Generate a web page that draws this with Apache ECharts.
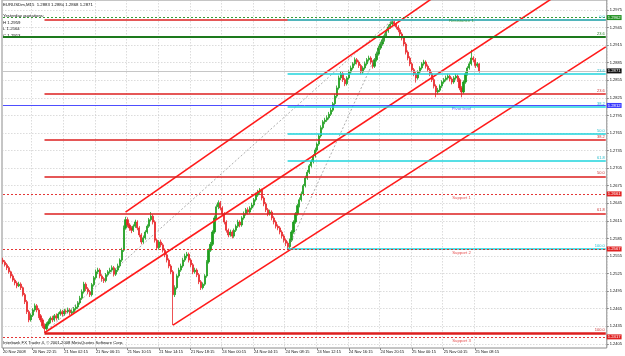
<!DOCTYPE html>
<html>
<head>
<meta charset="utf-8">
<script src="https://cdn.jsdelivr.net/npm/echarts@6/dist/echarts.min.js"></script>
<style>
html, body { margin: 0; padding: 0; background: #fff; }
#main { width: 625px; height: 356px; }
</style>
</head>
<body>
<div id="main"></div>
<script>
// EURUSDm M15 bars: [open, close, low, high]
var bars = [
[1.2548,1.2545,1.2541,1.2552],[1.2545,1.2540,1.2537,1.2548],[1.2540,1.2535,1.2531,1.2543],[1.2535,1.2528,1.2525,1.2538],
[1.2528,1.2521,1.2517,1.2530],[1.2521,1.2514,1.2511,1.2524],[1.2514,1.2509,1.2505,1.2517],[1.2509,1.2504,1.2500,1.2512],
[1.2504,1.2507,1.2502,1.2511],[1.2507,1.2501,1.2497,1.2510],[1.2501,1.2489,1.2486,1.2503],[1.2489,1.2477,1.2473,1.2492],
[1.2477,1.2460,1.2456,1.2480],[1.2460,1.2446,1.2442,1.2463],[1.2446,1.2454,1.2443,1.2457],[1.2454,1.2463,1.2451,1.2466],
[1.2463,1.2470,1.2460,1.2474],[1.2470,1.2463,1.2459,1.2473],[1.2463,1.2453,1.2449,1.2466],[1.2453,1.2446,1.2442,1.2456],
[1.2446,1.2436,1.2432,1.2449],[1.2436,1.2431,1.2424,1.2440],[1.2431,1.2439,1.2428,1.2442],[1.2439,1.2443,1.2436,1.2447],
[1.2443,1.2449,1.2440,1.2452],[1.2449,1.2446,1.2442,1.2453],[1.2446,1.2453,1.2443,1.2456],[1.2453,1.2449,1.2445,1.2457],
[1.2449,1.2456,1.2446,1.2459],[1.2456,1.2460,1.2453,1.2464],[1.2460,1.2456,1.2452,1.2463],[1.2456,1.2461,1.2453,1.2465],
[1.2461,1.2460,1.2456,1.2464],[1.2460,1.2463,1.2457,1.2467],[1.2463,1.2458,1.2454,1.2466],[1.2458,1.2460,1.2455,1.2464],
[1.2460,1.2465,1.2457,1.2468],[1.2465,1.2468,1.2462,1.2472],[1.2468,1.2475,1.2465,1.2478],[1.2475,1.2483,1.2472,1.2487],
[1.2483,1.2494,1.2480,1.2498],[1.2494,1.2507,1.2491,1.2511],[1.2507,1.2499,1.2495,1.2510],[1.2499,1.2494,1.2490,1.2502],
[1.2494,1.2489,1.2485,1.2497],[1.2489,1.2506,1.2486,1.2509],[1.2506,1.2518,1.2503,1.2521],[1.2518,1.2528,1.2515,1.2532],
[1.2528,1.2531,1.2524,1.2535],[1.2531,1.2521,1.2517,1.2534],[1.2521,1.2516,1.2512,1.2524],[1.2516,1.2513,1.2509,1.2519],
[1.2513,1.2523,1.2510,1.2526],[1.2523,1.2528,1.2520,1.2531],[1.2528,1.2531,1.2525,1.2535],[1.2531,1.2535,1.2528,1.2539],
[1.2535,1.2524,1.2520,1.2538],[1.2524,1.2531,1.2521,1.2534],[1.2531,1.2538,1.2528,1.2542],[1.2538,1.2548,1.2535,1.2551],
[1.2548,1.2565,1.2545,1.2569],[1.2565,1.2603,1.2562,1.2607],[1.2603,1.2617,1.2600,1.2622],[1.2617,1.2608,1.2604,1.2621],
[1.2608,1.2603,1.2598,1.2611],[1.2603,1.2599,1.2594,1.2606],[1.2599,1.2606,1.2596,1.2609],[1.2606,1.2613,1.2603,1.2617],
[1.2613,1.2603,1.2599,1.2616],[1.2603,1.2591,1.2587,1.2606],[1.2591,1.2579,1.2575,1.2594],[1.2579,1.2586,1.2576,1.2590],
[1.2586,1.2596,1.2583,1.2599],[1.2596,1.2606,1.2593,1.2609],[1.2606,1.2617,1.2603,1.2620],[1.2617,1.2623,1.2614,1.2630],
[1.2623,1.2613,1.2609,1.2626],[1.2613,1.2582,1.2578,1.2616],[1.2582,1.2569,1.2565,1.2585],[1.2569,1.2579,1.2566,1.2582],
[1.2579,1.2574,1.2570,1.2583],[1.2574,1.2565,1.2561,1.2577],[1.2565,1.2557,1.2553,1.2568],[1.2557,1.2548,1.2544,1.2560],
[1.2548,1.2538,1.2534,1.2551],[1.2538,1.2528,1.2524,1.2541],[1.2528,1.2489,1.2437,1.2531],[1.2489,1.2501,1.2485,1.2505],
[1.2501,1.2521,1.2498,1.2524],[1.2521,1.2531,1.2518,1.2535],[1.2531,1.2538,1.2528,1.2542],[1.2538,1.2548,1.2535,1.2552],
[1.2548,1.2555,1.2545,1.2559],[1.2555,1.2558,1.2551,1.2562],[1.2558,1.2548,1.2544,1.2561],[1.2548,1.2540,1.2536,1.2551],
[1.2540,1.2528,1.2524,1.2543],[1.2528,1.2531,1.2525,1.2535],[1.2531,1.2523,1.2519,1.2534],[1.2523,1.2511,1.2507,1.2526],
[1.2511,1.2501,1.2497,1.2514],[1.2501,1.2507,1.2498,1.2510],[1.2507,1.2521,1.2504,1.2524],[1.2521,1.2545,1.2518,1.2548],
[1.2545,1.2565,1.2542,1.2568],[1.2565,1.2575,1.2562,1.2579],[1.2575,1.2596,1.2572,1.2599],[1.2596,1.2620,1.2593,1.2624],
[1.2620,1.2639,1.2617,1.2643],[1.2639,1.2646,1.2635,1.2650],[1.2646,1.2637,1.2633,1.2649],[1.2637,1.2627,1.2623,1.2640],
[1.2627,1.2613,1.2609,1.2630],[1.2613,1.2599,1.2595,1.2616],[1.2599,1.2591,1.2587,1.2602],[1.2591,1.2596,1.2588,1.2600],
[1.2596,1.2589,1.2585,1.2599],[1.2589,1.2599,1.2586,1.2602],[1.2599,1.2606,1.2596,1.2609],[1.2606,1.2613,1.2603,1.2617],
[1.2613,1.2608,1.2604,1.2616],[1.2608,1.2620,1.2605,1.2623],[1.2620,1.2627,1.2617,1.2631],[1.2627,1.2634,1.2624,1.2637],
[1.2634,1.2630,1.2626,1.2638],[1.2630,1.2637,1.2627,1.2640],[1.2637,1.2642,1.2634,1.2646],[1.2642,1.2651,1.2639,1.2654],
[1.2651,1.2659,1.2648,1.2663],[1.2659,1.2664,1.2656,1.2668],[1.2664,1.2668,1.2661,1.2671],[1.2668,1.2654,1.2650,1.2670],
[1.2654,1.2644,1.2640,1.2657],[1.2644,1.2634,1.2630,1.2647],[1.2634,1.2627,1.2623,1.2637],[1.2627,1.2630,1.2624,1.2634],
[1.2630,1.2620,1.2616,1.2633],[1.2620,1.2613,1.2609,1.2623],[1.2613,1.2606,1.2602,1.2616],[1.2606,1.2603,1.2599,1.2609],
[1.2603,1.2596,1.2592,1.2606],[1.2596,1.2589,1.2585,1.2599],[1.2589,1.2582,1.2578,1.2592],[1.2582,1.2577,1.2572,1.2585],
[1.2577,1.2571,1.2565,1.2580],[1.2571,1.2582,1.2568,1.2585],[1.2582,1.2596,1.2579,1.2599],[1.2596,1.2613,1.2593,1.2616],
[1.2613,1.2627,1.2610,1.2630],[1.2627,1.2641,1.2624,1.2644],[1.2641,1.2651,1.2638,1.2655],[1.2651,1.2661,1.2648,1.2665],
[1.2661,1.2675,1.2658,1.2678],[1.2675,1.2688,1.2672,1.2692],[1.2688,1.2698,1.2685,1.2702],[1.2698,1.2709,1.2695,1.2712],
[1.2709,1.2716,1.2706,1.2720],[1.2716,1.2726,1.2713,1.2729],[1.2726,1.2736,1.2723,1.2740],[1.2736,1.2746,1.2733,1.2749],
[1.2746,1.2760,1.2743,1.2763],[1.2760,1.2774,1.2757,1.2778],[1.2774,1.2784,1.2771,1.2787],[1.2784,1.2787,1.2780,1.2791],
[1.2787,1.2791,1.2784,1.2795],[1.2791,1.2797,1.2788,1.2801],[1.2797,1.2804,1.2794,1.2808],[1.2804,1.2815,1.2801,1.2818],
[1.2815,1.2828,1.2812,1.2832],[1.2828,1.2842,1.2825,1.2846],[1.2842,1.2859,1.2839,1.2863],[1.2859,1.2866,1.2855,1.2870],
[1.2866,1.2856,1.2852,1.2869],[1.2856,1.2849,1.2845,1.2859],[1.2849,1.2859,1.2846,1.2862],[1.2859,1.2869,1.2856,1.2872],
[1.2869,1.2876,1.2866,1.2880],[1.2876,1.2883,1.2873,1.2886],[1.2883,1.2890,1.2880,1.2894],[1.2890,1.2886,1.2882,1.2893],
[1.2886,1.2880,1.2876,1.2889],[1.2880,1.2869,1.2865,1.2883],[1.2869,1.2876,1.2866,1.2879],[1.2876,1.2883,1.2873,1.2887],
[1.2883,1.2890,1.2880,1.2893],[1.2890,1.2893,1.2887,1.2897],[1.2893,1.2886,1.2882,1.2896],[1.2886,1.2879,1.2875,1.2889],
[1.2879,1.2890,1.2876,1.2893],[1.2890,1.2900,1.2887,1.2904],[1.2900,1.2910,1.2897,1.2914],[1.2910,1.2917,1.2907,1.2921],
[1.2917,1.2924,1.2914,1.2928],[1.2924,1.2931,1.2921,1.2935],[1.2931,1.2939,1.2928,1.2943],[1.2939,1.2946,1.2936,1.2950],
[1.2946,1.2951,1.2943,1.2955],[1.2951,1.2955,1.2948,1.2960],[1.2955,1.2951,1.2947,1.2958],[1.2951,1.2946,1.2942,1.2954],
[1.2946,1.2941,1.2937,1.2949],[1.2941,1.2934,1.2930,1.2944],[1.2934,1.2927,1.2923,1.2937],[1.2927,1.2917,1.2913,1.2930],
[1.2917,1.2903,1.2899,1.2920],[1.2903,1.2893,1.2889,1.2906],[1.2893,1.2883,1.2879,1.2896],[1.2883,1.2873,1.2869,1.2886],
[1.2873,1.2866,1.2862,1.2876],[1.2866,1.2859,1.2851,1.2869],[1.2859,1.2869,1.2856,1.2872],[1.2869,1.2876,1.2866,1.2879],
[1.2876,1.2883,1.2873,1.2886],[1.2883,1.2886,1.2880,1.2890],[1.2886,1.2879,1.2875,1.2889],[1.2879,1.2873,1.2869,1.2882],
[1.2873,1.2866,1.2862,1.2876],[1.2866,1.2856,1.2852,1.2869],[1.2856,1.2845,1.2841,1.2859],[1.2845,1.2835,1.2826,1.2848],
[1.2835,1.2838,1.2831,1.2842],[1.2838,1.2845,1.2835,1.2848],[1.2845,1.2852,1.2842,1.2855],[1.2852,1.2856,1.2849,1.2859],
[1.2856,1.2859,1.2853,1.2863],[1.2859,1.2862,1.2856,1.2866],[1.2862,1.2857,1.2853,1.2865],[1.2857,1.2852,1.2848,1.2860],
[1.2852,1.2859,1.2849,1.2862],[1.2859,1.2862,1.2856,1.2866],[1.2862,1.2856,1.2852,1.2865],[1.2856,1.2842,1.2838,1.2859],
[1.2842,1.2835,1.2826,1.2845],[1.2835,1.2852,1.2832,1.2855],[1.2852,1.2866,1.2849,1.2869],[1.2866,1.2876,1.2863,1.2879],
[1.2876,1.2883,1.2873,1.2887],[1.2883,1.2893,1.2880,1.2907],[1.2893,1.2890,1.2886,1.2896],[1.2890,1.2880,1.2876,1.2893],
[1.2880,1.2883,1.2877,1.2886],[1.2883,1.2871,1.2868,1.2884]
];
var barSlots = 306;

var timeTickIdx  = [0, 15, 31, 47, 63, 79, 95, 111, 127, 143, 159, 175, 191, 207, 223, 239];
var timeTickText = ['20 Nov 2008', '20 Nov 22:15', '21 Nov 02:15', '21 Nov 06:15', '21 Nov 10:15',
  '21 Nov 14:15', '21 Nov 18:15', '24 Nov 00:15', '24 Nov 04:15', '24 Nov 08:15', '24 Nov 12:15',
  '24 Nov 16:15', '24 Nov 20:15', '25 Nov 00:15', '25 Nov 04:15', '25 Nov 08:15'];

var priceTicks = [1.2405, 1.2435, 1.2465, 1.2495, 1.2525, 1.2555, 1.2585, 1.2615, 1.2645, 1.2675,
  1.2705, 1.2735, 1.2765, 1.2795, 1.2825, 1.2855, 1.2885, 1.2915, 1.2945, 1.2975];

// daily pivots
var pivotNames  = ['Resistance 1', 'Pivot level', 'Support 1', 'Support 2', 'Support 3'];
var pivotPrices = [1.2962, 1.2812, 1.2661, 1.2567, 1.2417];
var pivotColors = ['#1f8f1f', '#3a3aff', '#e02020', '#e02020', '#e02020'];
var pivotTextBar = 232;

// fibonacci retracements
var fibNames = ['0.0', '23.6', '38.2', '50.0', '61.8', '100.0'];
var redFibStart = 21;
var redFibLevels = [1.2958, 1.2832, 1.2754, 1.2691, 1.2628, 1.2424];
var cyanFibStart = 144;
var cyanFibLevels = [1.2958, 1.2866, 1.2809, 1.2764, 1.2718, 1.2567];
var greenLevel = 1.2929;
var bidPrice = 1.2871;

// channel rays and fibo trend lines: [barIndex, price]
var channelLines = [
  [[62, 1.2630], [250, 1.3072]],
  [[21, 1.2424], [305, 1.3055]],
  [[86, 1.2437], [305, 1.2912]]
];
var fibTrendLines = [
  [[21, 1.2424], [197, 1.2958]],
  [[144, 1.2567], [197, 1.2958]]
];

var FONT = 'Liberation Sans';
var cats = [];
for (var i = 0; i < barSlots; i++) cats.push(i);
var lastSlot = barSlots - 1;

function isTimeTick(idx) { return timeTickIdx.indexOf(idx) >= 0; }

// horizontal level from bar "from" to the right edge
function level(from, v, lineStyle, label) {
  return [{ coord: [from, v], lineStyle: lineStyle, label: label }, { coord: [lastSlot, v] }];
}
function priceBox(v, bg) {
  return { show: true, position: 'end', distance: 1, formatter: v.toFixed(4), color: '#fff',
    backgroundColor: bg, padding: [1, 1, 0, 1], fontSize: 4.2, fontFamily: FONT };
}
function fibLabel(txt, color) {
  return { show: true, position: 'insideEndTop', distance: [1, 1], formatter: txt, color: color, fontSize: 4, fontFamily: FONT };
}

var marks = [];
marks.push(level(0, greenLevel, { color: '#1d7a1d', width: 2, type: 'solid' }, fibLabel('23.6', '#1d7a1d')));
redFibLevels.forEach(function (v, k) {
  marks.push(level(redFibStart, v, { color: '#dd1f1f', width: k === 5 ? 2.5 : 1.5, type: 'solid' },
    k > 0 ? fibLabel(fibNames[k], '#cc3333') : { show: false }));
});
cyanFibLevels.forEach(function (v, k) {
  marks.push(level(cyanFibStart, v, { color: '#1fd5dd', width: 1.5, type: 'solid' }, fibLabel(fibNames[k], '#22bbcc')));
});
pivotPrices.forEach(function (v, k) {
  marks.push(level(0, v, { color: pivotColors[k], width: 0.9, type: k === 1 ? 'solid' : [2, 2] },
    priceBox(v, pivotColors[k])));
});
marks.push(level(0, bidPrice, { color: '#b8b8b8', width: 0.8, type: 'solid' }, priceBox(bidPrice, '#111')));

var series = [{
  type: 'candlestick',
  data: bars,
  barWidth: 1.6,
  itemStyle: { color: '#1e9e1e', color0: '#e8262a', borderColor: '#1e9e1e', borderColor0: '#e8262a', borderWidth: 0.8 },
  markLine: { silent: true, symbol: ['none', 'none'], animation: false, data: marks }
}];
channelLines.forEach(function (seg) {
  series.push({ type: 'line', data: seg, symbol: 'none', silent: true, clip: true,
    lineStyle: { color: '#ff1a1a', width: 1.6 }, z: 4 });
});
fibTrendLines.forEach(function (seg) {
  series.push({ type: 'line', data: seg, symbol: 'none', silent: true, clip: true,
    lineStyle: { color: '#8a8a8a', width: 0.7, type: [2, 2] }, z: 3 });
});
// pivot names written under their lines
series.push({
  type: 'scatter', silent: true, symbolSize: 1, itemStyle: { color: 'rgba(0,0,0,0)' }, z: 6,
  data: pivotPrices.map(function (v, k) {
    return { value: [pivotTextBar, v], label: { show: true, position: 'bottom', distance: 1,
      formatter: pivotNames[k], color: pivotColors[k], fontSize: 4.3, fontFamily: FONT } };
  })
});

var chart = echarts.init(document.getElementById('main'), null, { renderer: 'canvas' });
chart.setOption({
  animation: false,
  backgroundColor: '#ffffff',
  grid: { left: 1, right: 18, top: 0, bottom: 8, show: true, borderColor: '#8c8c8c', borderWidth: 1 },
  xAxis: {
    type: 'category', data: cats, boundaryGap: true,
    axisLine: { show: false },
    axisTick: { show: true, alignWithLabel: true, length: 2, interval: function (idx) { return isTimeTick(idx); }, lineStyle: { color: '#888' } },
    axisLabel: {
      interval: function (idx) { return isTimeTick(idx); },
      formatter: function (v) { var k = timeTickIdx.indexOf(Number(v)); return k >= 0 ? timeTickText[k] : ''; },
      align: 'left', margin: 2, fontSize: 4, color: '#111', fontFamily: FONT
    },
    splitLine: { show: true, interval: function (idx) { return isTimeTick(idx); }, lineStyle: { color: '#c4c4c4', width: 0.6, type: [1.5, 1.5] } }
  },
  yAxis: {
    type: 'value', position: 'right', min: 1.2398, max: 1.2992, scale: true,
    axisLine: { show: false },
    axisTick: { show: true, length: 2, customValues: priceTicks, lineStyle: { color: '#888' } },
    axisLabel: { customValues: priceTicks, formatter: function (v) { return v.toFixed(4); }, margin: 3, fontSize: 4, color: '#111', fontFamily: FONT },
    splitLine: { show: true, lineStyle: { color: '#c4c4c4', width: 0.6, type: [1.5, 1.5] } }
  },
  graphic: [
    { type: 'text', left: 3, top: 3, style: { text: 'EURUSDm,M15  1.2883 1.2884 1.2868 1.2871', fontSize: 4.3, fontFamily: FONT, fill: '#111' } },
    { type: 'text', left: 3, top: 13, style: { text: 'Yesterday quotations:\nH 1.2959\nL 1.2564\nC 1.2913', fontSize: 4.3, lineHeight: 6.5, fontFamily: FONT, fill: '#111' } },
    { type: 'text', left: 3, top: 341, style: { text: 'Interbank FX Trader 4, \u00a9 2001-2008 MetaQuotes Software Corp.', fontSize: 4.2, fontFamily: FONT, fill: '#111' } }
  ],
  series: series
});
</script>
</body>
</html>
